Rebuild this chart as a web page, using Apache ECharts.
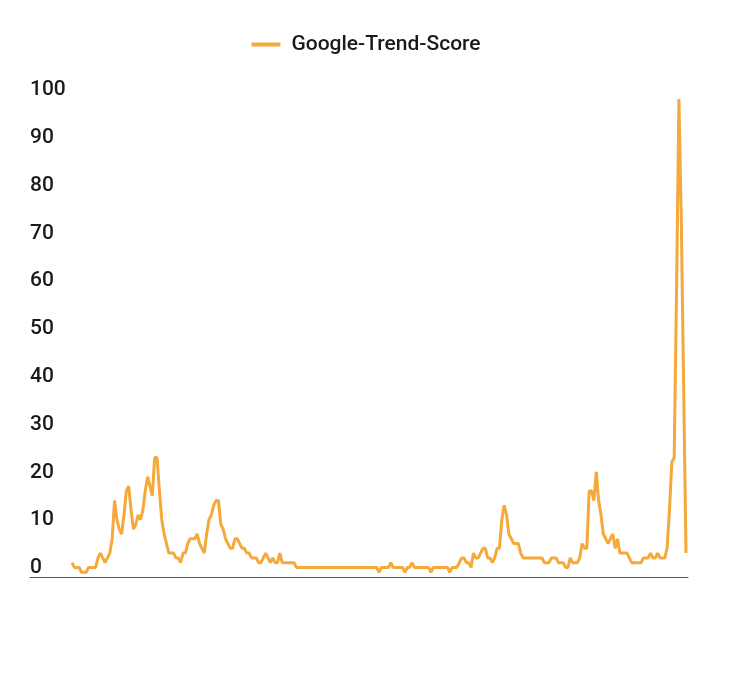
<!DOCTYPE html>
<html>
<head>
<meta charset="utf-8">
<script src="https://cdn.jsdelivr.net/npm/echarts@6/dist/echarts.min.js"></script>
<style>html,body{margin:0;padding:0;background:#fff}#c{width:732px;height:673px}</style>
</head>
<body>
<div id="c"></div>
<script>
// Weekly Google Trends score (index = week number)
const seriesName = 'Google-Trend-Score';
const scoresA = [3,2,2,2,1,1,1,2,2,2, 2,4,5,4,3,4,5,8,16,12, 10,9,13,18,19,14,10,11,13,12, 14,18,21,19,17,25,25,18,12,9, 7,5,5,5];
const scoresB = [4,4,3,5,5,7,8,8,8,9, 7,6,5,9,12,13,15,16,16,11, 10,8,7,6,6,8,8,7,6,6, 5,5,4,4,4,3,3,4,5,4, 3,4,3,3,5];
const scoresC = [3,3,3,3,3,3,
  2,2,2,2,2,2,2,2,2,2,2,2,2,2,2,2,2,2,2,2,2,2,2,2,2,2,2,2,2,2,2,2,2,2,2,
  1,2,2,2,2,3,2,2,2,2,2,1,2,2,3,2,2,2,2,2,2,2,1,2,2,2,2,2,2,2,1,2,2,2,3];
const scoresD = [4,4,3,3,2,5,4,4,5,6, 6,4,4,3,4,6,6,12,15,13, 9,8,7,7,7,5,4,4,4,4, 4,4,4,4,4,3,3,3,4,4, 4,3,3,3,2,2,4];
const scoresE = [3,3,3,4,7,6,6,18,18,16, 22,16,13,9,8,7,8,9,6,8, 5,5,5,5,4,3,3,3,3,3, 4,4,4,5,4,4,5,4,4,4, 6,14,24,25,60,100,75,40,5];
const yTicks = [0,10,20,30,40,50,60,70,80,90,100];

const scores = [].concat(scoresA, scoresB, scoresC, scoresD, scoresE);
const points = scores.map((v, i) => [i, v]);

const chart = echarts.init(document.getElementById('c'), null, {renderer: 'canvas'});
chart.setOption({
  animation: false,
  textStyle: {fontFamily: 'Roboto'},
  legend: {
    data: [seriesName],
    top: 29,
    left: 'center',
    icon: 'rect',
    itemWidth: 29,
    itemHeight: 4,
    textStyle: {fontSize: 21, fontWeight: 500, color: '#1a1a1a', fontFamily: 'Roboto', padding: [0, 0, 0, 6]}
  },
  grid: {left: 30, right: 44, top: 99, bottom: 96, containLabel: false},
  xAxis: {
    type: 'value',
    min: -17.8,
    max: scores.length - 1 + 0.85,
    axisLine: {show: true, lineStyle: {color: '#555', width: 1}},
    axisTick: {show: false},
    axisLabel: {show: false},
    splitLine: {show: false}
  },
  yAxis: {
    type: 'value',
    min: yTicks[0],
    max: yTicks[yTicks.length - 1],
    interval: 10,
    axisLine: {show: false},
    axisTick: {show: false},
    splitLine: {show: false},
    axisLabel: {
      inside: true,
      margin: 0,
      align: 'left',
      verticalAlign: 'bottom',
      lineHeight: 18,
      fontSize: 21,
      fontWeight: 500,
      color: '#1a1a1a',
      fontFamily: 'Roboto'
    }
  },
  series: [{
    name: seriesName,
    type: 'line',
    data: points,
    showSymbol: false,
    symbol: 'none',
    lineStyle: {width: 3, color: '#F5A93A'},
    itemStyle: {color: '#F5A93A'}
  }]
});
</script>
</body>
</html>
